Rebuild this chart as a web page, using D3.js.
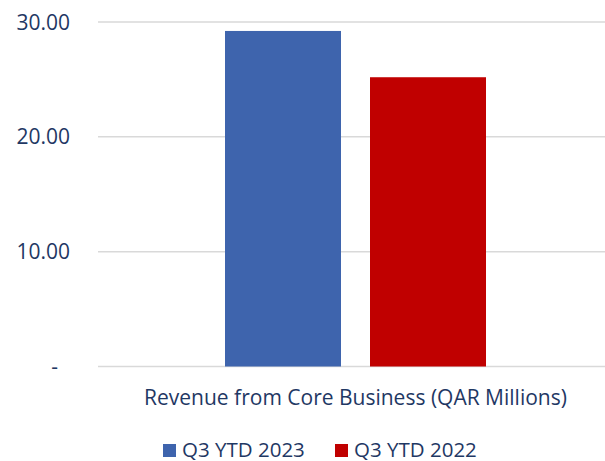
<!DOCTYPE html>
<html>
<head>
<meta charset="utf-8">
<script src="https://cdn.jsdelivr.net/npm/d3@7"></script>
<style>
  body { margin: 0; background: #fff; }
  svg { display: block; font-family: "Open Sans", sans-serif; }
</style>
</head>
<body>
<svg id="chart"></svg>
<script>
// Data
var categories = ["Revenue from Core Business (QAR Millions)"];
var seriesNames = ["Q3 YTD 2023", "Q3 YTD 2022"];
var seriesValues = [29.22, 25.19];
var seriesColors = ["#3E64AD", "#C00000"];
var tickValues = [0, 10, 20, 30];
var tickLabels = ["-", "10.00", "20.00", "30.00"];

var width = 605, height = 461;
var textColor = "#1F3864";

var svg = d3.select("#chart")
    .attr("width", width)
    .attr("height", height);

var y = d3.scaleLinear()
    .domain([0, 30])
    .range([366.5, 22]);

// category band, bars centred in it
var x0 = d3.scaleBand()
    .domain(categories)
    .range([98, 613]);

var x1 = d3.scaleBand()
    .domain(seriesNames)
    .range([0, 261])
    .paddingInner(0.2);

// gridlines
svg.append("g")
    .selectAll("line")
    .data(tickValues)
    .enter().append("line")
        .attr("x1", 98)
        .attr("x2", 613)
        .attr("y1", function(d){ return y(d); })
        .attr("y2", function(d){ return y(d); })
        .style("stroke", "#D9D9D9")
        .style("stroke-width", 1.5);

// y axis labels
svg.append("g")
    .selectAll("text")
    .data(tickValues)
    .enter().append("text")
        .attr("x", function(d, i){ return tickLabels[i] == "-" ? 58 : 70; })
        .attr("y", function(d){ return y(d); })
        .attr("dy", "0.36em")
        .attr("text-anchor", "end")
        .style("font-size", "21px")
        .style("fill", textColor)
        .text(function(d, i){ return tickLabels[i]; });

// bars
var groupLeft = x0(categories[0]) + (x0.bandwidth() - 261) / 2;
svg.append("g")
    .selectAll("rect")
    .data(seriesValues)
    .enter().append("rect")
        .attr("x", function(d, i){ return groupLeft + x1(seriesNames[i]); })
        .attr("y", function(d){ return y(d); })
        .attr("width", x1.bandwidth())
        .attr("height", function(d){ return y(0) - y(d); })
        .style("fill", function(d, i){ return seriesColors[i]; });

// category label
svg.append("text")
    .attr("x", x0(categories[0]) + x0.bandwidth() / 2)
    .attr("y", 405)
    .attr("text-anchor", "middle")
    .style("font-size", "21px")
    .style("fill", textColor)
    .text(categories[0]);

// legend
var legendX = [163, 335];
var legend = svg.append("g")
    .selectAll("g")
    .data(seriesNames)
    .enter().append("g")
        .attr("transform", function(d, i){ return "translate(" + legendX[i] + ",444)"; });
legend.append("rect")
    .attr("width", 13)
    .attr("height", 13)
    .style("fill", function(d, i){ return seriesColors[i]; });
legend.append("text")
    .attr("x", 19)
    .attr("y", 12.5)
    .style("font-size", "20.5px")
    .style("fill", textColor)
    .text(function(d){ return d; });
</script>
</body>
</html>
